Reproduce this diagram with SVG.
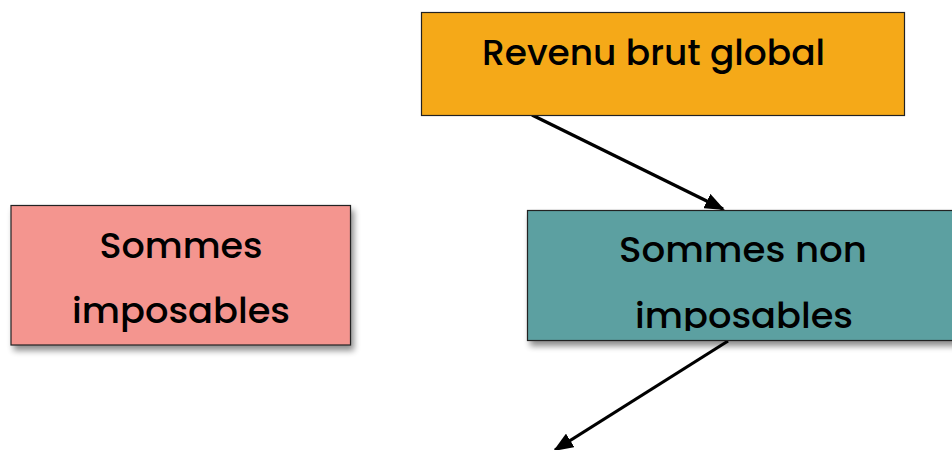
<svg xmlns="http://www.w3.org/2000/svg" width="952" height="450" viewBox="0 0 952 450">
<defs>
<style>
.box{stroke:#222;stroke-width:1.2}
.t{font-family:"Poppins","Open Sans","Noto Sans",sans-serif;font-size:35px;font-weight:500;fill:#000;text-anchor:middle}
.c{stroke:#000;stroke-width:3.2;fill:none;marker-end:url(#ah)}
</style>
<filter id="sh" x="-10%" y="-10%" width="130%" height="140%">
<feGaussianBlur in="SourceAlpha" stdDeviation="3"/>
<feOffset dx="3" dy="5" result="b"/>
<feComponentTransfer><feFuncA type="linear" slope="0.45"/></feComponentTransfer>
<feMerge><feMergeNode/><feMergeNode in="SourceGraphic"/></feMerge>
</filter>
<marker id="ah" viewBox="0 0 20 16" refX="18" refY="8" markerWidth="20" markerHeight="16" markerUnits="userSpaceOnUse" orient="auto">
<path d="M0,0 L20,8 L0,16 z" fill="#000"/>
</marker>
<clipPath id="tc"><rect x="527" y="210" width="425" height="121"/></clipPath>
</defs>
<rect width="952" height="450" fill="#fff"/>
<g id="connectors">
<line class="c" x1="532" y1="115" x2="723" y2="209"/>
<line class="c" x1="728" y1="341" x2="555" y2="450"/>
</g>
<g id="revenu">
<rect class="box" x="421.5" y="12.5" width="483" height="103" fill="#F5A918"/>
<text class="t" x="653.5" y="65" textLength="343" lengthAdjust="spacingAndGlyphs">Revenu brut global</text>
</g>
<g id="imposables">
<rect class="box" x="11" y="205.5" width="339.5" height="139.5" fill="#F4958F" filter="url(#sh)"/>
<text class="t" x="181" y="258" textLength="163" lengthAdjust="spacingAndGlyphs">Sommes</text>
<text class="t" x="181" y="323" textLength="218" lengthAdjust="spacingAndGlyphs">imposables</text>
</g>
<g id="non-imposables">
<rect class="box" x="527.5" y="210.5" width="430" height="130" fill="#5CA0A1" filter="url(#sh)"/>
<g clip-path="url(#tc)">
<text class="t" x="743" y="262" textLength="248" lengthAdjust="spacingAndGlyphs">Sommes non</text>
<text class="t" x="744" y="328" textLength="218" lengthAdjust="spacingAndGlyphs">imposables</text>
</g>
</g>
</svg>
